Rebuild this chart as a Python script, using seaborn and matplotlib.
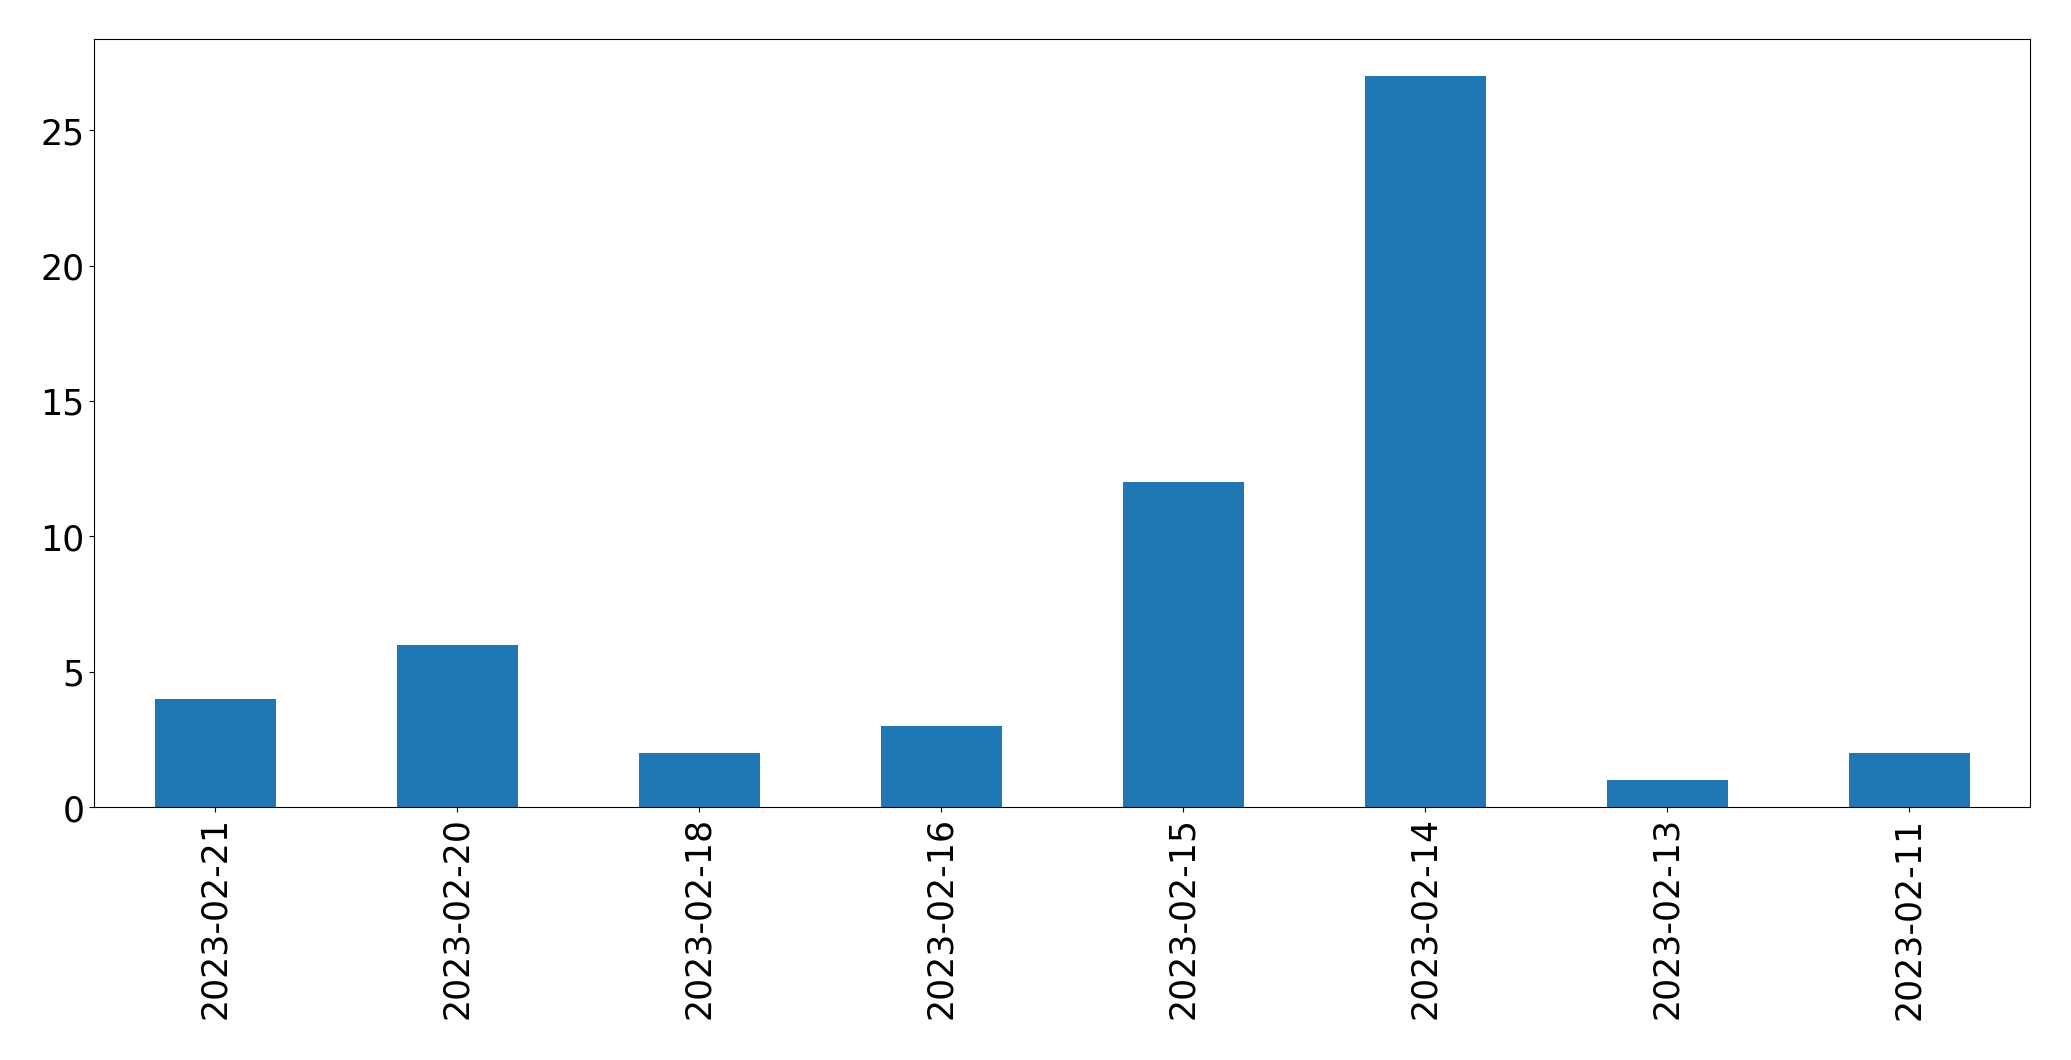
import matplotlib
matplotlib.use("Agg")
import matplotlib.pyplot as plt
import seaborn as sns
import pandas as pd

# Counts per date, in the order shown on the chart
dates = ['2023-02-21', '2023-02-20', '2023-02-18', '2023-02-16',
         '2023-02-15', '2023-02-14', '2023-02-13', '2023-02-11']
counts = [4, 6, 2, 3, 12, 27, 1, 2]

df = pd.DataFrame({'date': dates, 'count': counts})

fig = plt.figure(figsize=(20.71, 10.605), dpi=100)
ax = fig.add_axes([94 / 2071, 1 - 808 / 1061, (2030 - 94) / 2071, (808 - 40) / 1061])
sns.barplot(data=df, x='date', y='count', order=dates, color='#1f77b4',
            saturation=1, width=0.5, linewidth=0, ax=ax)
ax.set_xlabel('')
ax.set_ylabel('')
ax.set_xlim(-0.5, len(dates) - 0.5)
ax.tick_params(axis='x', labelrotation=90, labelsize=25)
ax.tick_params(axis='y', labelsize=25)
fig.savefig('out.png', dpi=100)
